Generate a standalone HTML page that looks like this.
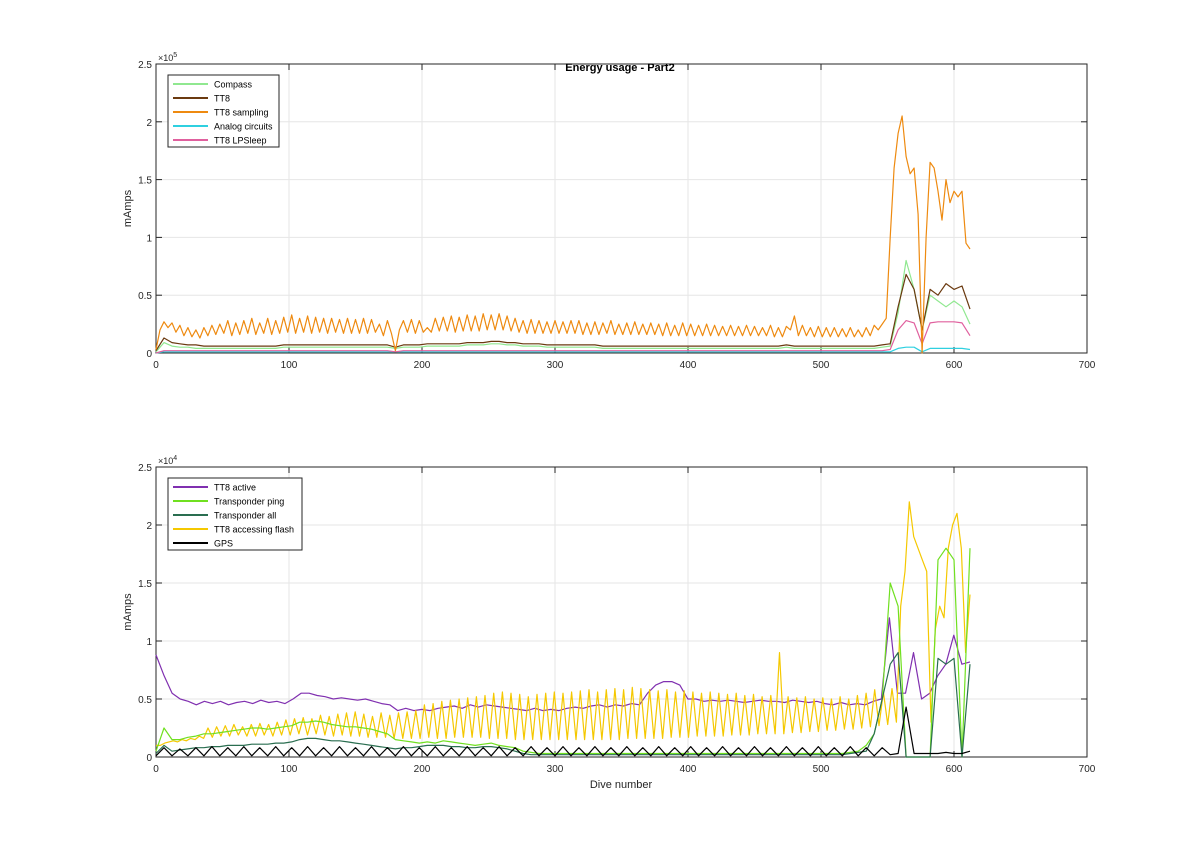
<!DOCTYPE html>
<html><head><meta charset="utf-8"><style>
body{margin:0;background:#fff;font-family:"Liberation Sans",sans-serif}
svg text{font-family:"Liberation Sans",sans-serif}
</style></head><body>
<svg id="chart" width="1200" height="851" viewBox="0 0 1200 851" xmlns="http://www.w3.org/2000/svg">
<rect width="1200" height="851" fill="#fff"/>
</svg>
<script>
// x ticks
const xTicks=[0,100,200,300,400,500,600,700];
const yTickLabels=["0","0.5","1","1.5","2","2.5"];
const lastDive=612;
// TOP (values in thousands of mAmps), evenly spread over dives 0..612
const orangeTT8Sampling=[3,20,27,22,26,18,24,15,22,14,20,13,22,15,24,16,25,17,28,15,26,16,28,17,30,16,26,17,30,16,28,17,31,18,33,17,30,18,32,17,31,18,30,17,30,18,29,17,30,17,29,17,30,17,29,18,25,15,28,17,2,20,28,18,29,17,28,18,22,18,30,19,31,19,32,18,31,19,33,19,32,19,34,20,33,20,34,20,32,19,30,18,28,17,29,17,28,17,27,17,28,17,27,17,28,17,28,16,26,16,27,16,26,17,28,16,25,16,26,16,27,16,25,16,26,16,25,15,26,15,24,15,26,15,25,15,24,15,25,15,24,15,23,15,24,15,23,15,24,15,23,15,22,15,24,14,22,14,23,20,32,15,24,15,22,14,23,14,22,14,22,14,21,14,22,14,20,14,22,15,24,20,25,30,100,160,190,205,170,155,160,120,0,100,165,160,140,115,150,130,140,135,140,95,90];
const brownTT8=[2,13,9,8,7,7,6,6,6,6,6,6,6,6,6,6,7,7,7,7,7,7,7,7,7,7,7,7,7,7,5,7,7,7,8,8,8,8,8,9,9,9,10,10,9,9,8,8,8,7,7,7,7,7,7,7,6,6,6,6,6,6,6,6,6,6,6,6,6,6,6,6,6,6,6,6,6,6,6,7,6,6,6,6,6,6,6,6,6,6,6,7,8,40,68,55,20,55,50,60,55,58,38];
const greenCompass=[1,9,6,5,5,4,4,4,4,4,4,4,4,4,4,4,5,5,5,5,5,5,5,5,5,5,5,5,5,5,4,5,5,5,6,6,6,6,6,7,7,7,8,8,7,7,6,6,6,5,5,5,5,5,5,5,4,4,4,4,4,4,4,4,4,4,4,4,4,4,4,4,4,4,4,4,4,4,4,5,4,4,4,4,4,4,4,4,4,4,4,5,6,35,80,55,20,50,45,40,45,40,25];
const pinkLPSleep=[0,2,2,2,2,2,2,2,2,2,2,2,2,2,2,2,2,2,2,2,2,2,2,2,2,2,2,2,2,2,1,2,2,2,2,2,2,2,2,2,2,2,2,2,2,2,2,2,2,2,2,2,2,2,2,2,2,2,2,2,2,2,2,2,2,2,2,2,2,2,2,2,2,2,2,2,2,2,2,2,2,2,2,2,2,2,2,2,2,2,2,2,3,20,28,26,8,26,27,27,27,26,15];
const cyanAnalog=[0,1,1,1,1,1,1,1,1,1,1,1,1,1,1,1,1,1,1,1,1,1,1,1,1,1,1,1,1,1,1,1,1,1,1,1,1,1,1,1,1,1,1,1,1,1,1,1,1,1,1,1,1,1,1,1,1,1,1,1,1,1,1,1,1,1,1,1,1,1,1,1,1,1,1,1,1,1,1,1,1,1,1,1,1,1,1,1,1,1,1,1,1,4,5,5,1,4,4,4,4,4,3];
// BOTTOM (thousands)
const purpleTT8Active=[8.8,7,5.5,5,4.8,4.5,4.8,4.6,4.8,4.5,4.7,4.8,4.6,4.9,4.7,4.8,4.6,5,5.5,5.5,5.3,5.2,5,5.1,5,4.9,5,4.8,4.6,4.5,4,4.2,4,4.1,4,4.2,4.3,4.4,4.2,4.5,4.3,4.5,4.4,4.3,4.2,4.1,4,4.2,4,4.1,4,4.2,4.3,4.2,4.4,4.5,4.3,4.5,4.4,4.6,4.5,5.5,6.2,6.5,6.5,6.2,5,5,4.8,4.9,4.8,4.9,4.8,4.7,4.8,4.9,4.8,4.8,4.7,4.9,4.8,4.7,4.8,4.6,4.5,4.7,4.5,4.6,4.5,4.8,5,12,5.5,5.5,9,5,5.5,7,8,10.5,8,8.2];
const yellowFlash=[1,1,1.2,1.3,1.4,1.3,1.5,1.4,1.6,1.5,1.8,1.6,2.5,1.7,2.6,1.8,2.7,1.8,2.8,1.9,2.6,1.8,2.8,1.8,2.9,1.9,2.8,1.8,3,1.9,3.2,1.9,3.3,2,3.4,1.9,3.3,2,3.6,1.9,3.5,1.8,3.7,1.9,3.8,1.8,3.9,1.8,3.7,1.7,3.5,1.7,3.8,1.7,3.6,1.6,3.8,1.6,3.9,1.6,4,1.6,4.5,1.7,4.6,1.6,4.8,1.6,4.9,1.7,5,1.7,5.1,1.7,5.2,1.7,5.3,1.6,5.5,1.6,5.6,1.6,5.5,1.5,5.4,1.5,5.2,1.5,5.4,1.5,5.5,1.5,5.6,1.5,5.5,1.5,5.6,1.5,5.7,1.5,5.8,1.5,5.6,1.5,5.8,1.5,5.9,1.5,5.8,1.6,6,1.6,5.9,1.6,5.8,1.6,5.7,1.6,5.8,1.7,5.6,1.7,5.7,1.7,5.6,1.8,5.5,1.8,5.6,1.8,5.5,1.8,5.4,1.9,5.5,1.9,5.3,1.9,5.4,2,5.2,2,5.3,2,9,2,5.2,2.1,5.1,2.1,5.2,2.2,5,2.2,5.1,2.3,5,2.3,5.2,2.4,5,2.4,5.3,2.5,5.5,2.6,5.8,2.7,5.6,2.8,5.9,3,13,16,22,19,18,17,16,3,11,13,12,18,20,21,18,9,14];
const greenPing=[0.5,2.5,1.5,1.5,1.7,1.8,2,2,2.1,2.2,2.3,2.4,2.5,2.5,2.4,2.5,2.6,2.7,3,3,3.1,3,2.8,2.7,2.6,2.6,2.5,2.4,2.2,2,1.5,1.4,1.3,1.2,1.3,1.2,1.4,1.3,1.2,1.1,1,1.1,1.2,1,0.9,0.8,0.5,0.4,0.3,0.3,0.3,0.3,0.3,0.3,0.3,0.3,0.3,0.3,0.3,0.3,0.3,0.3,0.3,0.3,0.3,0.3,0.3,0.3,0.3,0.3,0.3,0.3,0.3,0.3,0.3,0.3,0.3,0.3,0.3,0.3,0.3,0.3,0.3,0.3,0.3,0.3,0.3,0.4,0.5,1,2,5,15,13,0,0,0,0,17,18,17,0,18];
const darkGreenAll=[0.3,1,0.5,0.6,0.7,0.8,0.8,0.9,0.9,1,1,1,1.1,1.1,1.1,1.2,1.2,1.3,1.5,1.6,1.6,1.5,1.4,1.4,1.3,1.2,1.1,1,0.9,0.8,0.7,0.8,0.8,0.9,1,1,1,0.9,0.9,0.8,0.8,0.9,0.9,0.8,0.7,0.5,0.3,0.2,0.2,0.2,0.2,0.2,0.2,0.2,0.2,0.2,0.2,0.2,0.2,0.2,0.2,0.2,0.2,0.2,0.2,0.2,0.2,0.2,0.2,0.2,0.2,0.2,0.2,0.2,0.2,0.2,0.2,0.2,0.2,0.2,0.2,0.2,0.2,0.2,0.2,0.2,0.2,0.3,0.4,0.5,2,5,8,9,0,0,0,0,8.5,8,8.5,0,8];
const blackGPS=[0.1,0.8,0.1,0.7,0.1,0.8,0.1,0.9,0.1,0.8,0.1,0.9,0.1,0.8,0.1,0.9,0.1,0.8,0.1,0.9,0.1,0.8,0.1,0.9,0.1,0.8,0.1,0.9,0.1,0.8,0.1,0.9,0.1,0.8,0.1,0.9,0.1,0.8,0.1,0.9,0.1,0.8,0.1,0.9,0.1,0.8,0.1,0.9,0.1,0.8,0.1,0.9,0.1,0.8,0.1,0.9,0.1,0.8,0.1,0.9,0.1,0.8,0.1,0.9,0.1,0.8,0.1,0.9,0.1,0.8,0.1,0.9,0.1,0.8,0.1,0.9,0.1,0.8,0.1,0.9,0.1,0.8,0.1,0.9,0.1,0.8,0.1,0.9,0.1,0.8,0.1,0.8,0.2,0.3,4.3,0.3,0.3,0.3,0.3,0.4,0.3,0.3,0.5];

const NS="http://www.w3.org/2000/svg";
const svg=document.getElementById('chart');
function mk(tag,attrs,parent){const e=document.createElementNS(NS,tag);for(const k in attrs)e.setAttribute(k,attrs[k]);(parent||svg).appendChild(e);return e;}
const X0=156,X1=1087;
function xs(v){return X0+(v/700)*(X1-X0);}

function axes(top,bot,ymax,exp,name){
  const g=mk('g',{});
  
  
  const ys=v=>bot-(v/ymax)*(bot-top);
  mk('rect',{x:X0,y:top,width:X1-X0,height:bot-top,fill:'#fff'},g);
  xTicks.forEach(t=>{
    const gl=mk('line',{x1:xs(t),x2:xs(t),y1:top,y2:bot,stroke:'#e6e6e6','stroke-width':1},g);
    
    
    mk('line',{x1:xs(t),x2:xs(t),y1:bot,y2:bot-6,stroke:'#262626'},g);
    mk('line',{x1:xs(t),x2:xs(t),y1:top,y2:top+6,stroke:'#262626'},g);
    const tl=mk('text',{x:xs(t),y:bot+15,'font-size':10,'text-anchor':'middle',fill:'#262626'},g);
    tl.textContent=t;
    
    
  });
  yTickLabels.forEach((lab,i)=>{
    const v=i*ymax/5,y=ys(v);
    const gl=mk('line',{x1:X0,x2:X1,y1:y,y2:y,stroke:'#e6e6e6'},g);
    
    
    mk('line',{x1:X0,x2:X0+6,y1:y,y2:y,stroke:'#262626'},g);
    mk('line',{x1:X1,x2:X1-6,y1:y,y2:y,stroke:'#262626'},g);
    const tl=mk('text',{x:X0-4,y:y+4,'font-size':10,'text-anchor':'end',fill:'#262626'},g);
    tl.textContent=lab;
    
    
  });
  mk('rect',{x:X0,y:top,width:X1-X0,height:bot-top,fill:'none',stroke:'#262626','stroke-width':1},g);
  const ex=mk('text',{x:X0+2,y:top-3,'font-size':9,fill:'#262626'},g);
  ex.innerHTML='×10<tspan dy="-4" font-size="7">'+exp+'</tspan>';
  
  
  const yl=mk('text',{x:0,y:0,'font-size':11,'text-anchor':'middle',fill:'#262626',transform:`translate(131,${(top+bot)/2}) rotate(-90)`},g);
  yl.textContent='mAmps';
  
  
  return {g,ys};
}
function series(ax,arr,color,name){
  const step=lastDive/(arr.length-1);
  const pts=arr.map((v,i)=>xs(i*step).toFixed(1)+','+ax.ys(v).toFixed(1)).join(' ');
  const p=mk('polyline',{points:pts,fill:'none',stroke:color,'stroke-width':1.2,'stroke-linejoin':'round'},ax.g);
  
  
}
function legend(x,y,w,items,name){
  const g=mk('g',{});
  
  
  mk('rect',{x:x,y:y,width:w,height:items.length*14+2,fill:'#fff',stroke:'#262626'},g);
  items.forEach((it,i)=>{
    const yy=y+9+i*14;
    mk('line',{x1:x+5,x2:x+40,y1:yy,y2:yy,stroke:it[1],'stroke-width':2},g);
    const t=mk('text',{x:x+46,y:yy+3.5,'font-size':9,fill:'#000'},g);
    t.textContent=it[0];
    
    
  });
}
const ta=axes(64,353,250,5,'top-axes');
series(ta,cyanAnalog,'#2fd0e0','analog-circuits-line');
series(ta,pinkLPSleep,'#e0609e','tt8-lpsleep-line');
series(ta,greenCompass,'#90e890','compass-line');
series(ta,brownTT8,'#6b3a10','tt8-line');
series(ta,orangeTT8Sampling,'#ee8a10','tt8-sampling-line');
legend(168,75,111,[['Compass','#90e890'],['TT8','#6b3a10'],['TT8 sampling','#ee8a10'],['Analog circuits','#2fd0e0'],['TT8 LPSleep','#e0609e']],'top-legend');
const tt=mk('text',{x:620,y:71,'font-size':11,'font-weight':'bold','text-anchor':'middle',fill:'#000'});
tt.textContent='Energy usage - Part2';


const ba=axes(467,757,25,4,'bottom-axes');
series(ba,purpleTT8Active,'#8030b0','tt8-active-line');
series(ba,yellowFlash,'#f5c800','tt8-accessing-flash-line');
series(ba,greenPing,'#70e020','transponder-ping-line');
series(ba,darkGreenAll,'#2a6e50','transponder-all-line');
series(ba,blackGPS,'#000','gps-line');
legend(168,478,134,[['TT8 active','#8030b0'],['Transponder ping','#70e020'],['Transponder all','#2a6e50'],['TT8 accessing flash','#f5c800'],['GPS','#000']],'bottom-legend');
const xl=mk('text',{x:621,y:788,'font-size':11,'text-anchor':'middle',fill:'#262626'});
xl.textContent='Dive number';


</script>
</body></html>
